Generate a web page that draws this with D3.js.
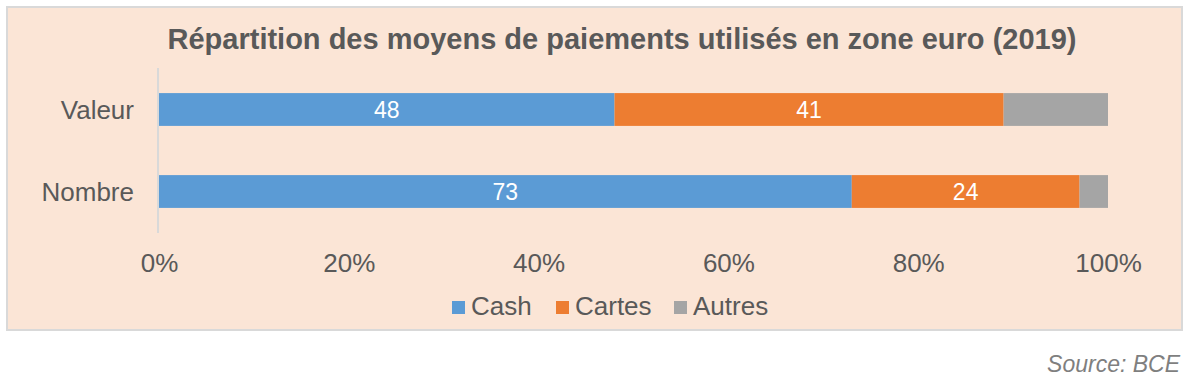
<!DOCTYPE html>
<html>
<head>
<meta charset="utf-8">
<script src="https://cdn.jsdelivr.net/npm/d3@7"></script>
<style>
  body { margin: 0; background: #fff; }
  text { font-family: "Liberation Sans", Arial, sans-serif; }
</style>
</head>
<body>
<div id="chart"></div>
<script>
// data
const categories = ["Valeur", "Nombre"];
const seriesNames = ["Cash", "Cartes", "Autres"];
const cash = [48, 73];
const cartes = [41, 24];
const autres = [11, 3];
const tickLabels = ["0%", "20%", "40%", "60%", "80%", "100%"];
const colors = ["#5B9BD5", "#ED7D31", "#A5A5A5"];

const W = 1191, H = 379;
const svg = d3.select("#chart").append("svg")
    .attr("width", W)
    .attr("height", H);

// panel
svg.append("rect")
    .attr("x", 7).attr("y", 7)
    .attr("width", 1175).attr("height", 323)
    .attr("fill", "#FBE5D6")
    .attr("stroke", "#D9D9D9")
    .attr("stroke-width", 2);

// title
svg.append("text")
    .attr("x", 622).attr("y", 49)
    .attr("text-anchor", "middle")
    .style("font-size", "29px")
    .style("font-weight", "bold")
    .attr("fill", "#595959")
    .text("Répartition des moyens de paiements utilisés en zone euro (2019)");

const rows = categories.map((c, i) => ({ cat: c, Cash: cash[i], Cartes: cartes[i], Autres: autres[i] }));
const stacked = d3.stack().keys(seriesNames)(rows);

const x = d3.scaleLinear().domain([0, 100]).range([159, 1108]);
const y = d3.scaleBand().domain(categories).range([68, 233]).paddingInner(0.6).paddingOuter(0.306);

// left axis line
svg.append("line")
    .attr("x1", x(0) - 1).attr("x2", x(0) - 1)
    .attr("y1", 68).attr("y2", 233)
    .attr("stroke", "#D9D9D9")
    .attr("stroke-width", 2);

// bars
const layers = svg.selectAll(".layer")
    .data(stacked)
    .enter().append("g")
    .attr("class", "layer")
    .attr("fill", (d, i) => colors[i]);

layers.selectAll("rect")
    .data(d => d)
    .enter().append("rect")
    .attr("x", d => x(d[0]))
    .attr("y", d => y(d.data.cat))
    .attr("width", d => x(d[1]) - x(d[0]))
    .attr("height", y.bandwidth());

// data labels (only cash and cartes)
layers.filter((d, i) => i < 2).selectAll("text")
    .data(d => d)
    .enter().append("text")
    .attr("x", d => (x(d[0]) + x(d[1])) / 2)
    .attr("y", d => y(d.data.cat) + y.bandwidth() / 2)
    .attr("dy", "0.36em")
    .attr("text-anchor", "middle")
    .attr("fill", "#fff")
    .style("font-size", "23px")
    .text(d => d[1] - d[0]);

// category labels
svg.selectAll(".cat")
    .data(categories)
    .enter().append("text")
    .attr("class", "cat")
    .attr("x", 134)
    .attr("y", d => y(d) + y.bandwidth() / 2)
    .attr("dy", "0.36em")
    .attr("text-anchor", "end")
    .attr("fill", "#595959")
    .style("font-size", "26px")
    .text(d => d);

// x axis
const xAxis = svg.append("g")
    .attr("transform", "translate(0,253.5)")
    .call(d3.axisBottom(x).tickValues(d3.range(0, 101, 20))
        .tickFormat((d, i) => tickLabels[i]).tickSize(0).tickPadding(0));
xAxis.select(".domain").remove();
xAxis.selectAll("text")
    .attr("fill", "#595959")
    .attr("dy", "0.71em")
    .style("font-size", "26px")
    .style("font-family", "'Liberation Sans', Arial, sans-serif");

// legend
const legendX = [452, 556, 674];
const legend = svg.selectAll(".leg")
    .data(seriesNames)
    .enter().append("g")
    .attr("class", "leg")
    .attr("transform", (d, i) => "translate(" + legendX[i] + ",301)");
legend.append("rect")
    .attr("width", 13).attr("height", 13)
    .attr("fill", (d, i) => colors[i]);
legend.append("text")
    .attr("x", 19).attr("y", 14)
    .attr("fill", "#595959")
    .style("font-size", "26px")
    .text(d => d);

// source
svg.append("text")
    .attr("x", 1180).attr("y", 372)
    .attr("text-anchor", "end")
    .attr("fill", "#7F7F7F")
    .style("font-size", "23px")
    .style("font-style", "italic")
    .text("Source: BCE");
</script>
</body>
</html>
